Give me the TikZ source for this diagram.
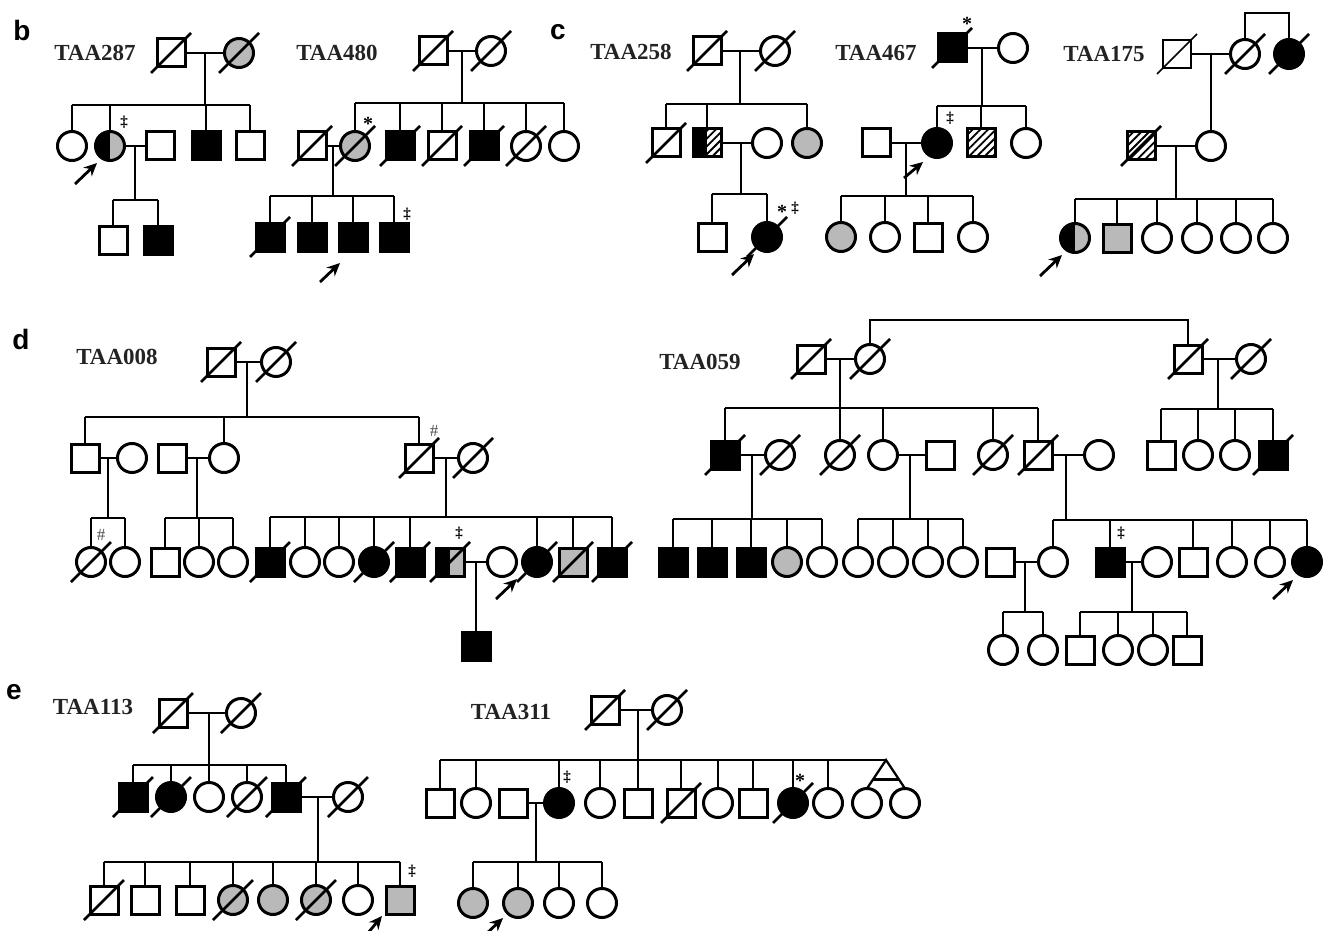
\documentclass[tikz,border=0pt]{standalone}
\usepackage{fontspec}
\setmainfont{Liberation Serif}
\newfontfamily\panelsans{Liberation Sans}
\usetikzlibrary{calc,arrows.meta,patterns.meta}
\definecolor{carrier}{RGB}{185,185,185}
\definecolor{labgrey}{RGB}{35,35,35}
\definecolor{hashgrey}{RGB}{80,80,80}
\tikzset{
  ind/.style={draw,line width=3pt,inner sep=0pt,outer sep=0pt},
  male/.style={ind,rectangle,minimum size=28pt},
  fem/.style={ind,circle,minimum size=29pt},
  aff/.style={fill=black},
  car/.style={fill=carrier},
  hat/.style={pattern={Lines[angle=45,distance=5.5pt,line width=1.8pt]}},
  halfblack/.style={path picture={\fill[black] (path picture bounding box.south west) rectangle (path picture bounding box.north);}},
  ln/.style={line width=2.3pt},
  slash/.style={line width=2.6pt},
  proband/.style={line width=2.8pt,-{Stealth[length=13pt,width=12pt]}},
  fam/.style={font=\bfseries\fontsize{23}{25}\selectfont,text=labgrey,inner sep=0pt},
  panel/.style={font=\panelsans\bfseries\fontsize{28}{30}\selectfont,inner sep=0pt},
  sym/.style={font=\bfseries\fontsize{15}{15}\selectfont,inner sep=0pt},
  star/.style={font=\bfseries\fontsize{20}{20}\selectfont,inner sep=0pt},
  hashsym/.style={font=\fontsize{17}{17}\selectfont,text=hashgrey,inner sep=0pt},
}
\newcommand\dead[1]{\foreach \p in {#1}{\draw[slash] ($(\p.center)+(-20,20)$) -- ($(\p.center)+(20,-20)$);}}
\newcommand\kids[2]{\foreach \p in {#2}{\draw[ln] (\p.north) -- (\p.north |- #1);}}
\newcommand\prob[1]{\draw[proband] ($(#1.center)+(-35,38)$) -- ($(#1.center)+(-13,17)$);}
\begin{document}
\begin{tikzpicture}[x=1pt,y=-1pt]
\useasboundingbox (0,0) rectangle (1331,931);
\fill[white] (0,0) rectangle (1331,931);

% ================= panel b =================
\node[panel] (pb) at (22,30) {b};
% TAA287
\node[fam] (t287) at (95,53) {TAA287};
\node[male] (a1) at (171,53) {};
\node[fem,car] (a2) at (239,53) {};
\draw[ln] (a1) -- (a2);
\coordinate (a12) at (205,53); \coordinate (sa1) at (205,105);
\draw[ln] (a12) -- (sa1);
\node[fem] (a3) at (72,146) {};
\node[fem,car,halfblack] (a4) at (110,146) {};
\node[male] (a5) at (160,146) {};
\node[male,aff] (a6) at (206,146) {};
\node[male] (a7) at (250,146) {};
\draw[ln] (a3.north |- sa1) -- (a7.north |- sa1);
\kids{sa1}{a3,a4,a6,a7}
\draw[ln] (a4) -- (a5);
\coordinate (a45) at (135,146); \coordinate (sa2) at (135,200);
\draw[ln] (a45) -- (sa2);
\node[male] (a8) at (113,240) {};
\node[male,aff] (a9) at (158,240) {};
\draw[ln] (a8.north |- sa2) -- (a9.north |- sa2);
\kids{sa2}{a8,a9}
\node[sym] (ma1) at (124,122) {‡};
\prob{a4}
\dead{a1,a2}

% TAA480
\node[fam] (t480) at (337,53) {TAA480};
\node[male] (b1) at (433,51) {};
\node[fem] (b2) at (491,51) {};
\draw[ln] (b1) -- (b2);
\coordinate (b12) at (462,51); \coordinate (sb1) at (462,103);
\draw[ln] (b12) -- (sb1);
\node[male] (b3) at (312,146) {};
\node[fem,car] (b4) at (355,146) {};
\node[male,aff] (b5) at (400,146) {};
\node[male] (b6) at (442,146) {};
\node[male,aff] (b7) at (484,146) {};
\node[fem] (b8) at (526,146) {};
\node[fem] (b9) at (564,146) {};
\draw[ln] (b4.north |- sb1) -- (b9.north |- sb1);
\kids{sb1}{b4,b5,b6,b7,b8,b9}
\draw[ln] (b3) -- (b4);
\coordinate (b34) at (333,146); \coordinate (sb2) at (333,196);
\draw[ln] (b34) -- (sb2);
\node[male,aff] (b10) at (270,237) {};
\node[male,aff] (b11) at (312,237) {};
\node[male,aff] (b12) at (353,237) {};
\node[male,aff] (b13) at (394,237) {};
\draw[ln] (b10.north |- sb2) -- (b13.north |- sb2);
\kids{sb2}{b10,b11,b12,b13}
\node[star] (mb1) at (368,124) {*};
\node[sym] (mb2) at (407,214) {‡};
\draw[proband] ($(b12.center)+(-33,45)$) -- ($(b12.center)+(-13,26)$);
\dead{b1,b2,b3,b4,b5,b6,b7,b8,b10}

% ================= panel c =================
\node[panel] (pc) at (558,32) {c};
% TAA258
\node[fam] (t258) at (631,52) {TAA258};
\node[male] (c1) at (707,51) {};
\node[fem] (c2) at (775,51) {};
\draw[ln] (c1) -- (c2);
\coordinate (c12) at (740,51); \coordinate (sc1) at (740,104);
\draw[ln] (c12) -- (sc1);
\node[male] (c3) at (666,143) {};
\node[male,hat,halfblack] (c4) at (707,143) {};
\node[fem] (c5) at (767,143) {};
\node[fem,car] (c6) at (807,143) {};
\draw[ln] (c3.north |- sc1) -- (c6.north |- sc1);
\kids{sc1}{c3,c4,c6}
\draw[ln] (c4) -- (c5);
\coordinate (c45) at (741,143); \coordinate (sc2) at (741,194);
\draw[ln] (c45) -- (sc2);
\node[male] (c7) at (712,237) {};
\node[fem,aff] (c8) at (767,237) {};
\draw[ln] (c7.north |- sc2) -- (c8.north |- sc2);
\kids{sc2}{c7,c8}
\node[star] (mc1) at (782,212) {*};
\node[sym] (mc2) at (795,208) {‡};
\prob{c8}
\dead{c1,c2,c3,c8}

% TAA467
\node[fam] (t467) at (876,53) {TAA467};
\node[male,aff] (d1) at (952,48) {};
\node[fem] (d2) at (1013,48) {};
\draw[ln] (d1) -- (d2);
\coordinate (d12) at (982,48); \coordinate (sd1) at (982,106);
\draw[ln] (d12) -- (sd1);
\node[male] (d3) at (876,143) {};
\node[fem,aff] (d4) at (937,143) {};
\node[male,hat] (d5) at (981,143) {};
\node[fem] (d6) at (1026,143) {};
\draw[ln] (d4.north |- sd1) -- (d6.north |- sd1);
\kids{sd1}{d4,d5,d6}
\draw[ln] (d3) -- (d4);
\coordinate (d34) at (906,143); \coordinate (sd2) at (906,196);
\draw[ln] (d34) -- (sd2);
\node[fem,car] (d7) at (841,237) {};
\node[fem] (d8) at (885,237) {};
\node[male] (d9) at (928,237) {};
\node[fem] (d10) at (973,237) {};
\draw[ln] (d7.north |- sd2) -- (d10.north |- sd2);
\kids{sd2}{d7,d8,d9,d10}
\node[star] (md1) at (967,24) {*};
\node[sym] (md2) at (950,118) {‡};
\draw[proband] ($(d4.center)+(-33,35)$) -- ($(d4.center)+(-14,19)$);
\dead{d1}

% TAA175
\node[fam] (t175) at (1104,54) {TAA175};
\node[male,line width=1.6pt] (e1) at (1177,54) {};
\node[fem] (e2) at (1245,54) {};
\node[fem,aff] (e3) at (1289,54) {};
\coordinate (e23) at (1266,13);
\draw[ln] (e2.north) |- (e23) -| (e3.north);
\draw[ln] (e1) -- (e2);
\coordinate (e12) at (1211,54);
\node[male,hat] (e4) at (1141,146) {};
\node[fem] (e5) at (1211,146) {};
\draw[ln] (e12) -- (e5.north);
\draw[ln] (e4) -- (e5);
\coordinate (e45) at (1176,146); \coordinate (se1) at (1176,199);
\draw[ln] (e45) -- (se1);
\node[fem,car,halfblack] (e6) at (1075,238) {};
\node[male,car] (e7) at (1117,238) {};
\node[fem] (e8) at (1157,238) {};
\node[fem] (e9) at (1197,238) {};
\node[fem] (e10) at (1236,238) {};
\node[fem] (e11) at (1273,238) {};
\draw[ln] (e6.north |- se1) -- (e11.north |- se1);
\kids{se1}{e6,e7,e8,e9,e10,e11}
\draw[line width=1.6pt] ($(e1.center)+(-20,20)$) -- ($(e1.center)+(20,-20)$);
\dead{e2,e3,e4}
\prob{e6}

% ================= panel d =================
\node[panel] (pd) at (21,339) {d};
% TAA008
\node[fam] (t008) at (117,357) {TAA008};
\node[male] (f1) at (221,362) {};
\node[fem] (f2) at (276,362) {};
\draw[ln] (f1) -- (f2);
\coordinate (f12) at (247,362); \coordinate (sf1) at (247,417);
\draw[ln] (f12) -- (sf1);
\node[male] (f3) at (85,458) {};
\node[fem] (f4) at (132,458) {};
\node[male] (f5) at (172,458) {};
\node[fem] (f6) at (224,458) {};
\node[male] (f7) at (419,458) {};
\node[fem] (f8) at (473,458) {};
\draw[ln] (f3.north |- sf1) -- (f7.north |- sf1);
\kids{sf1}{f3,f6,f7}
\node[hashsym] (mf1) at (434,431) {\#};
% couple f3-f4
\draw[ln] (f3) -- (f4);
\coordinate (f34) at (108,458); \coordinate (sf2) at (108,518);
\draw[ln] (f34) -- (sf2);
\node[fem] (f9) at (91,562) {};
\node[fem] (f10) at (125,562) {};
\draw[ln] (f9.north |- sf2) -- (f10.north |- sf2);
\kids{sf2}{f9,f10}
\node[hashsym] (mf2) at (101,535) {\#};
% couple f5-f6
\draw[ln] (f5) -- (f6);
\coordinate (f56) at (197,458); \coordinate (sf3) at (197,518);
\draw[ln] (f56) -- (sf3);
\node[male] (f11) at (165,562) {};
\node[fem] (f12) at (199,562) {};
\node[fem] (f13) at (233,562) {};
\draw[ln] (f11.north |- sf3) -- (f13.north |- sf3);
\kids{sf3}{f11,f12,f13}
% couple f7-f8
\draw[ln] (f7) -- (f8);
\coordinate (f78) at (446,458); \coordinate (sf4) at (446,517);
\draw[ln] (f78) -- (sf4);
\node[male,aff] (f14) at (270,562) {};
\node[fem] (f15) at (305,562) {};
\node[fem] (f16) at (339,562) {};
\node[fem,aff] (f17) at (374,562) {};
\node[male,aff] (f18) at (410,562) {};
\node[male,car,halfblack] (f19) at (450,562) {};
\node[fem] (f20) at (502,562) {};
\node[fem,aff] (f21) at (537,562) {};
\node[male,car] (f22) at (573,562) {};
\node[male,aff] (f23) at (612,562) {};
\draw[ln] (f14.north |- sf4) -- (f23.north |- sf4);
\kids{sf4}{f14,f15,f16,f17,f18,f21,f22,f23}
\node[sym] (mf3) at (459,533) {‡};
\draw[ln] (f19) -- (f20);
\coordinate (f1920) at (476,562);
\node[male,aff] (f24) at (476,646) {};
\draw[ln] (f1920) -- (f24.north);
\draw[proband] ($(f21.center)+(-41,37)$) -- ($(f21.center)+(-20,17)$);
\dead{f1,f2,f7,f8,f9,f14,f17,f18,f19,f21,f22,f23}

% TAA059
\node[fam] (t059) at (700,362) {TAA059};
\node[male] (g1) at (811,359) {};
\node[fem] (g2) at (870,359) {};
\node[male] (g3) at (1188,359) {};
\node[fem] (g4) at (1251,359) {};
\coordinate (gtop) at (1029,320);
\draw[ln] (g2.north) |- (gtop) -| (g3.north);
\draw[ln] (g1) -- (g2);
\coordinate (g12) at (840,359); \coordinate (sg1) at (840,408);
\draw[ln] (g12) -- (sg1);
\node[male,aff] (g5) at (725,455) {};
\node[fem] (g6) at (780,455) {};
\node[fem] (g7) at (840,455) {};
\node[fem] (g8) at (883,455) {};
\node[male] (g9) at (940,455) {};
\node[fem] (g10) at (993,455) {};
\node[male] (g11) at (1038,455) {};
\node[fem] (g12n) at (1099,455) {};
\draw[ln] (g5.north |- sg1) -- (g11.north |- sg1);
\kids{sg1}{g5,g7,g8,g10,g11}
% g5-g6
\draw[ln] (g5) -- (g6);
\coordinate (g56) at (752,455); \coordinate (sg2) at (752,519);
\draw[ln] (g56) -- (sg2);
\node[male,aff] (g13) at (673,562) {};
\node[male,aff] (g14) at (712,562) {};
\node[male,aff] (g15) at (751,562) {};
\node[fem,car] (g16) at (787,562) {};
\node[fem] (g17) at (822,562) {};
\draw[ln] (g13.north |- sg2) -- (g17.north |- sg2);
\kids{sg2}{g13,g14,g15,g16,g17}
% g8-g9
\draw[ln] (g8) -- (g9);
\coordinate (g89) at (910,455); \coordinate (sg3) at (910,519);
\draw[ln] (g89) -- (sg3);
\node[fem] (g18) at (858,562) {};
\node[fem] (g19) at (893,562) {};
\node[fem] (g20) at (928,562) {};
\node[fem] (g21) at (963,562) {};
\draw[ln] (g18.north |- sg3) -- (g21.north |- sg3);
\kids{sg3}{g18,g19,g20,g21}
% g11-g12n
\draw[ln] (g11) -- (g12n);
\coordinate (g1112) at (1066,455); \coordinate (sg4) at (1066,520);
\draw[ln] (g1112) -- (sg4);
\node[male] (g22) at (1000,562) {};
\node[fem] (g23) at (1053,562) {};
\node[male,aff] (g24) at (1110,562) {};
\node[fem] (g25) at (1157,562) {};
\node[male] (g26) at (1193,562) {};
\node[fem] (g27) at (1232,562) {};
\node[fem] (g28) at (1270,562) {};
\node[fem,aff] (g29) at (1307,562) {};
\draw[ln] (g23.north |- sg4) -- (g29.north |- sg4);
\kids{sg4}{g23,g24,g26,g27,g28,g29}
\node[sym] (mg1) at (1121,533) {‡};
\draw[proband] ($(g29.center)+(-34,37)$) -- ($(g29.center)+(-14,18)$);
% g22-g23
\draw[ln] (g22) -- (g23);
\coordinate (g2223) at (1025,562); \coordinate (sg5) at (1025,612);
\draw[ln] (g2223) -- (sg5);
\node[fem] (g30) at (1003,650) {};
\node[fem] (g31) at (1043,650) {};
\draw[ln] (g30.north |- sg5) -- (g31.north |- sg5);
\kids{sg5}{g30,g31}
% g24-g25
\draw[ln] (g24) -- (g25);
\coordinate (g2425) at (1132,562); \coordinate (sg6) at (1132,612);
\draw[ln] (g2425) -- (sg6);
\node[male] (g32) at (1080,650) {};
\node[fem] (g33) at (1118,650) {};
\node[fem] (g34) at (1153,650) {};
\node[male] (g35) at (1187,650) {};
\draw[ln] (g32.north |- sg6) -- (g35.north |- sg6);
\kids{sg6}{g32,g33,g34,g35}
% g3-g4
\draw[ln] (g3) -- (g4);
\coordinate (g34) at (1218,359); \coordinate (sg7) at (1218,409);
\draw[ln] (g34) -- (sg7);
\node[male] (g36) at (1161,455) {};
\node[fem] (g37) at (1198,455) {};
\node[fem] (g38) at (1235,455) {};
\node[male,aff] (g39) at (1273,455) {};
\draw[ln] (g36.north |- sg7) -- (g39.north |- sg7);
\kids{sg7}{g36,g37,g38,g39}
\dead{g1,g2,g3,g4,g5,g6,g7,g10,g11,g39}

% ================= panel e =================
\node[panel] (pe) at (14,692) {e};
% TAA113
\node[fam] (t113) at (93,707) {TAA113};
\node[male] (h1) at (173,713) {};
\node[fem] (h2) at (241,713) {};
\draw[ln] (h1) -- (h2);
\coordinate (h12) at (209,713); \coordinate (sh1) at (209,765);
\draw[ln] (h12) -- (sh1);
\node[male,aff] (h3) at (133,797) {};
\node[fem,aff] (h4) at (171,797) {};
\node[fem] (h5) at (209,797) {};
\node[fem] (h6) at (247,797) {};
\node[male,aff] (h7) at (286,797) {};
\node[fem] (h8) at (348,797) {};
\draw[ln] (h3.north |- sh1) -- (h7.north |- sh1);
\kids{sh1}{h3,h4,h5,h6,h7}
\draw[ln] (h7) -- (h8);
\coordinate (h78) at (318,797); \coordinate (sh2) at (318,862);
\draw[ln] (h78) -- (sh2);
\node[male] (h9) at (104,900) {};
\node[male] (h10) at (145,900) {};
\node[male] (h11) at (190,900) {};
\node[fem,car] (h12n) at (233,900) {};
\node[fem,car] (h13) at (273,900) {};
\node[fem,car] (h14) at (316,900) {};
\node[fem] (h15) at (358,900) {};
\node[male,car] (h16) at (400,900) {};
\draw[ln] (h9.north |- sh2) -- (h16.north |- sh2);
\kids{sh2}{h9,h10,h11,h12n,h13,h14,h15,h16}
\node[sym] (mh1) at (412,871) {‡};
\draw[proband] ($(h16.center)+(-37,39)$) -- ($(h16.center)+(-18,16)$);
\dead{h1,h2,h3,h4,h6,h7,h8,h9,h12n,h14}

% TAA311
\node[fam] (t311) at (511,712) {TAA311};
\node[male] (i1) at (605,710) {};
\node[fem] (i2) at (667,710) {};
\draw[ln] (i1) -- (i2);
\coordinate (i12) at (638,710); \coordinate (si1) at (638,760);
\draw[ln] (i12) -- (si1);
\node[male] (i3) at (440,803) {};
\node[fem] (i4) at (476,803) {};
\node[male] (i5) at (513,803) {};
\node[fem,aff] (i6) at (559,803) {};
\node[fem] (i7) at (600,803) {};
\node[male] (i8) at (638,803) {};
\node[male] (i9) at (681,803) {};
\node[fem] (i10) at (718,803) {};
\node[male] (i11) at (753,803) {};
\node[fem,aff] (i12n) at (793,803) {};
\node[fem] (i13) at (828,803) {};
\node[fem] (i14) at (867,803) {};
\node[fem] (i15) at (905,803) {};
\coordinate (tw) at (886,760);
\draw[ln] (i3.north |- si1) -- (tw);
\kids{si1}{i3,i4,i6,i7,i8,i9,i10,i11,i12n,i13}
\draw[ln] (i14.north) -- (tw) -- (i15.north);
\path (tw) -- (i14.north) coordinate[pos=0.68] (tw1);
\path (tw) -- (i15.north) coordinate[pos=0.68] (tw2);
\draw[ln] (tw1) -- (tw2);
\node[sym] (mi1) at (567,777) {‡};
\node[star] (mi2) at (800,781) {*};
\draw[ln] (i5) -- (i6);
\coordinate (i56) at (536,803); \coordinate (si2) at (536,862);
\draw[ln] (i56) -- (si2);
\node[fem,car] (i16) at (473,903) {};
\node[fem,car] (i17) at (518,903) {};
\node[fem] (i18) at (559,903) {};
\node[fem] (i19) at (602,903) {};
\draw[ln] (i16.north |- si2) -- (i19.north |- si2);
\kids{si2}{i16,i17,i18,i19}
\draw[proband] ($(i17.center)+(-33,32)$) -- ($(i17.center)+(-15,15)$);
\dead{i1,i2,i9,i12n}
\end{tikzpicture}
\end{document}
